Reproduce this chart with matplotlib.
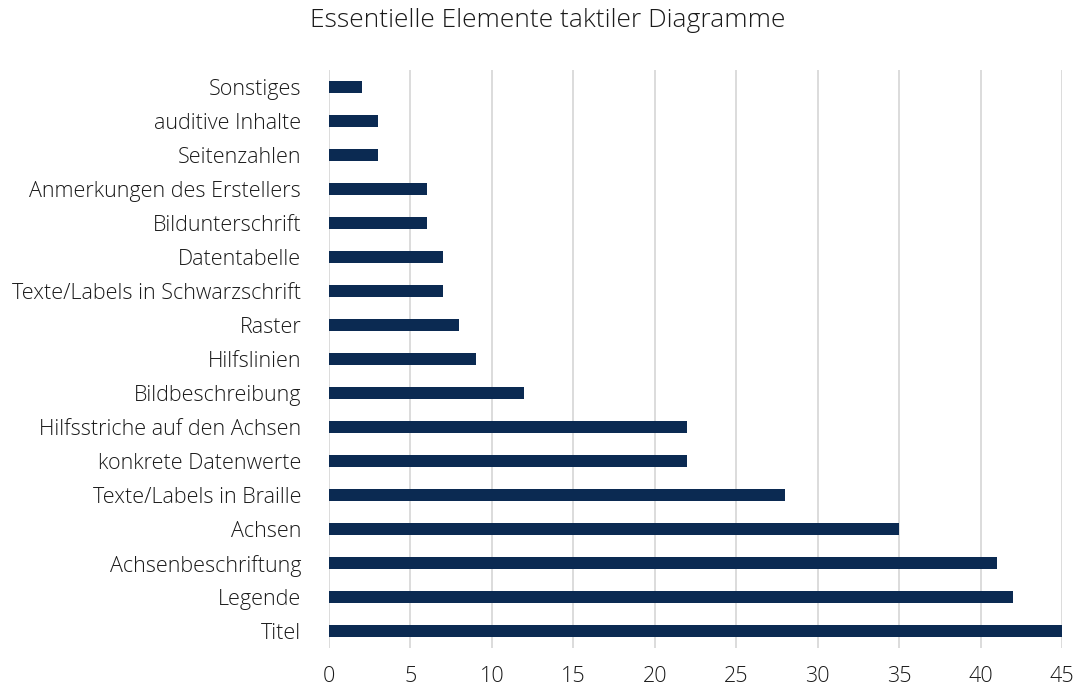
import matplotlib.pyplot as plt

# Data (top to bottom as shown in the chart)
categories = [
    "Sonstiges", "auditive Inhalte", "Seitenzahlen", "Anmerkungen des Erstellers",
    "Bildunterschrift", "Datentabelle", "Texte/Labels in Schwarzschrift", "Raster",
    "Hilfslinien", "Bildbeschreibung", "Hilfsstriche auf den Achsen",
    "konkrete Datenwerte", "Texte/Labels in Braille", "Achsen",
    "Achsenbeschriftung", "Legende", "Titel",
]
values = [2, 3, 3, 6, 6, 7, 7, 8, 9, 12, 22, 22, 28, 35, 41, 42, 45]
x_ticks = [0, 5, 10, 15, 20, 25, 30, 35, 40, 45]

plt.rcParams['font.family'] = ['Open Sans', 'DejaVu Sans']
plt.rcParams['font.weight'] = 'light'

fig = plt.figure(figsize=(10.8, 6.91), dpi=100)
ax = fig.add_axes([0.3046, 0.0622, 0.6787, 0.8365])

# reverse so the first category ends up on top
ypos = list(range(len(categories)))[::-1]
ax.barh(ypos, values, height=0.36, color='#0b2a52', zorder=3)

ax.set_xlim(0, 45)
ax.set_ylim(-0.5, len(categories) - 0.5)
ax.set_xticks(x_ticks)
ax.set_yticks(ypos)
ax.set_yticklabels(categories)
ax.tick_params(axis='y', length=0, pad=20, labelsize=15.5, colors='#1a1a1a')
ax.tick_params(axis='x', length=0, pad=13, labelsize=15.5, colors='#1a1a1a')

ax.grid(axis='x', color='#d9d9d9', linewidth=1.3, zorder=0)
for s in ax.spines.values():
    s.set_visible(False)

fig.text(0.507, 0.971, "Essentielle Elemente taktiler Diagramme",
         ha='center', va='center', fontsize=19, color='#1a1a1a')

fig.savefig("out.png", dpi=100)
